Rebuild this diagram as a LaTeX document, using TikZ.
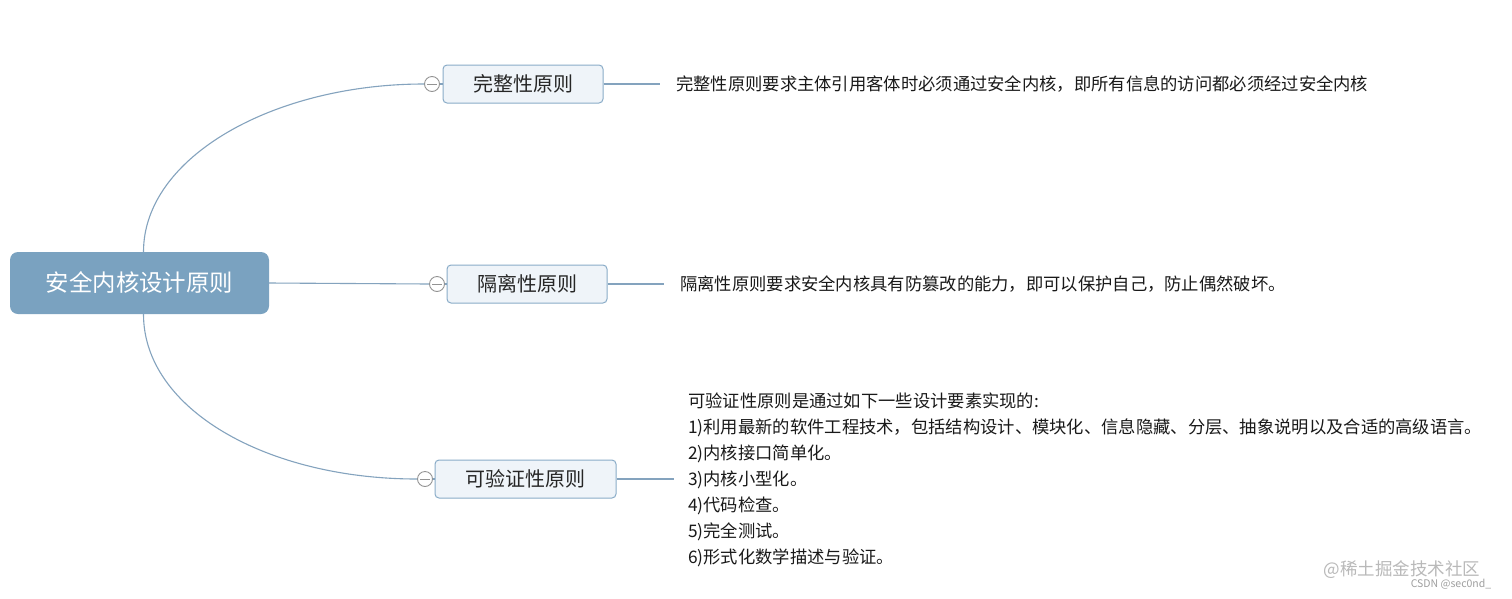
\documentclass[tikz,border=0pt]{standalone}
\usepackage{fontspec}
\setmainfont{Noto Sans CJK SC}
\usetikzlibrary{positioning, calc}

\definecolor{rootblue}{RGB}{122,162,192}
\definecolor{linkblue}{RGB}{132,163,190}
\definecolor{subfill}{RGB}{239,244,249}
\definecolor{subline}{RGB}{138,172,200}

\tikzset{
  rootnode/.style={rectangle, rounded corners=8pt, fill=rootblue, text=white,
    minimum width=259pt, minimum height=62pt, font=\fontsize{23.4}{27}\selectfont},
  subnode/.style={rectangle, rounded corners=4pt, draw=subline, fill=subfill,
    line width=1pt, minimum height=38pt, text=black!85, font=\fontsize{20}{24}\selectfont},
  toggle/.style={circle, draw=gray!85, fill=white, line width=0.9pt, minimum size=15pt,
    inner sep=0pt, path picture={\draw[gray!85, line width=0.9pt]
      ([xshift=-5pt]path picture bounding box.center) -- ([xshift=5pt]path picture bounding box.center);}},
  link/.style={draw=linkblue, line width=1.1pt},
  note/.style={anchor=west, inner sep=0pt, align=left, text=black!90,
    font=\fontsize{17.3}{26}\selectfont},
  wmark/.style={text=gray!55, inner sep=0pt}
}

\begin{document}
\begin{tikzpicture}[x=1pt, y=-1pt]
\useasboundingbox[fill=white] (0,0) rectangle (1512,598);

% Root
\node[rootnode] (root) at (139.5,283) {安全内核设计原则};

% Principles
\node[subnode, minimum width=160pt] (b1) at (523,84) {完整性原则};
\node[subnode, minimum width=160pt] (b2) at (527,284) {隔离性原则};
\node[subnode, minimum width=181pt] (b3) at (525.5,479) {可验证性原则};

\node[toggle] (c1) at (432,84) {};
\node[toggle] (c2) at (437,284) {};
\node[toggle] (c3) at (425,479) {};

% Descriptions
\node[note] (t1) at (676,84) {完整性原则要求主体引用客体时必须通过安全内核，即所有信息的访问都必须经过安全内核};
\node[note] (t2) at (680,284) {隔离性原则要求安全内核具有防篡改的能力，即可以保护自己，防止偶然破坏。};
\node[note] (t3) at (688,480) {可验证性原则是通过如下一些设计要素实现的:\\
1)利用最新的软件工程技术，包括结构设计、模块化、信息隐藏、分层、抽象说明以及合适的高级语言。\\
2)内核接口简单化。\\
3)内核小型化。\\
4)代码检查。\\
5)完全测试。\\
6)形式化数学描述与验证。};

% Branches
\draw[link] ($(root.north)+(4,0)$) .. controls +(0,-95) and +(-150,0) .. (c1.west);
\draw[link] (root.east) -- (c2.west);
\draw[link] ($(root.south)+(4,0)$) .. controls +(0,95) and +(-150,0) .. (c3.west);

\draw[link] (c1) -- (b1);
\draw[link] (c2) -- (b2);
\draw[link] (c3) -- (b3);

\draw[link, shorten >=16pt] (b1.east) -- (t1.west);
\draw[link, shorten >=16pt] (b2.east) -- (t2.west);
\draw[link, shorten >=14pt] (b3.east) -- (b3.east -| t3.west);

% Watermark
\node[wmark, font=\fontsize{17.5}{20}\selectfont] (wm1) at (1402,570) {@稀土掘金技术社区};
\node[wmark, font=\fontsize{10.5}{12}\selectfont, text=gray!75] (wm2) at (1451,584) {CSDN @sec0nd\_};
\end{tikzpicture}
\end{document}
